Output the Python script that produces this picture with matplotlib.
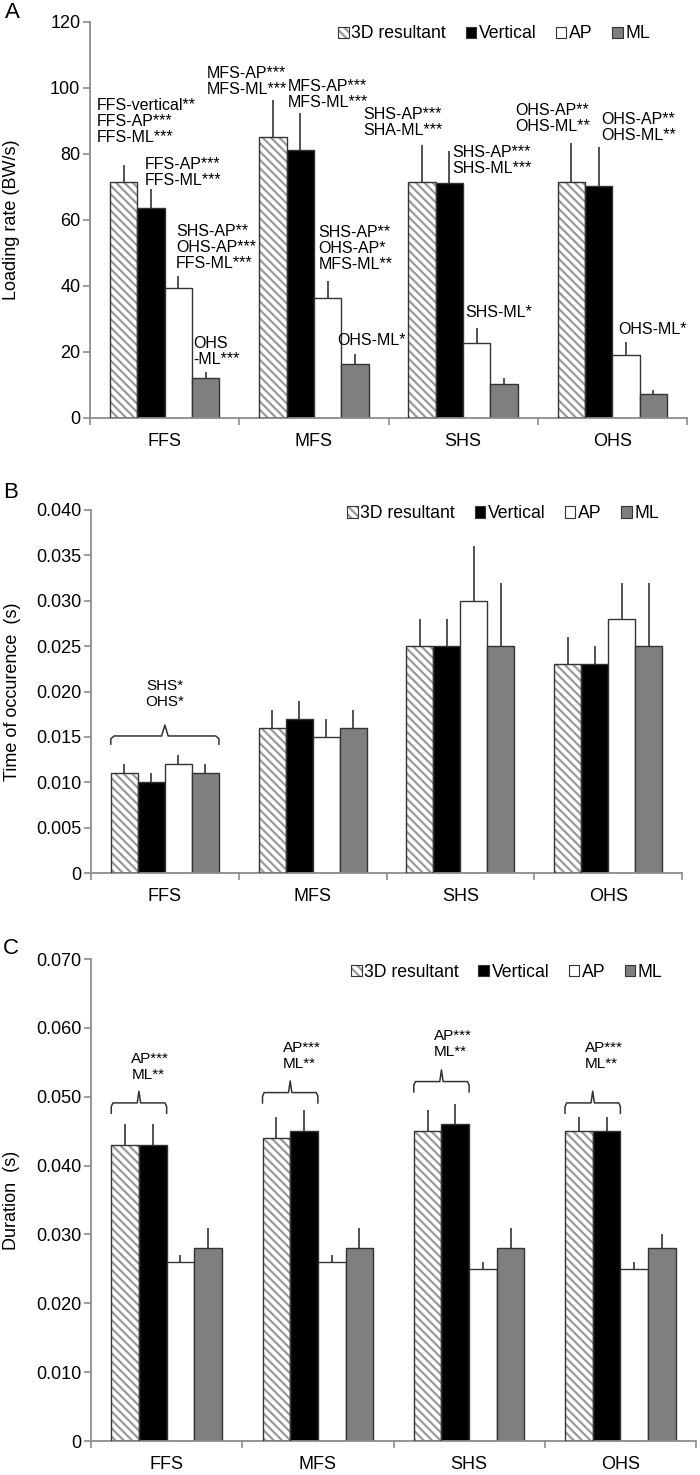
import numpy as np
import matplotlib.pyplot as plt
from matplotlib.patches import Patch
from matplotlib.legend_handler import HandlerTuple

plt.rcParams['font.family'] = ['Liberation Sans', 'DejaVu Sans']
plt.rcParams['hatch.linewidth'] = 1.6

strikes = ['FFS', 'MFS', 'SHS', 'OHS']
series = ['3D resultant', 'Vertical', 'AP', 'ML']

# A: loading rate (BW/s), mean and SD
lr_mean = [[71.5, 85.3, 71.5, 71.5],   # 3D resultant
           [63.5, 81.3, 71.2, 70.4],   # vertical
           [39.3, 36.3, 22.6, 19.1],   # AP
           [12.0, 16.5, 10.2, 7.2]]    # ML
lr_sd = [[5.3, 11.2, 11.2, 11.8],
         [5.9, 11.2, 9.6, 11.6],
         [3.7, 5.2, 4.7, 3.9],
         [1.8, 3.0, 1.8, 1.3]]

# B: time of occurence (s)
toc_mean = [[0.011, 0.016, 0.025, 0.023],
            [0.010, 0.017, 0.025, 0.023],
            [0.012, 0.015, 0.030, 0.028],
            [0.011, 0.016, 0.025, 0.025]]
toc_sd = [[0.001, 0.002, 0.003, 0.003],
          [0.001, 0.002, 0.003, 0.002],
          [0.001, 0.002, 0.006, 0.004],
          [0.001, 0.002, 0.007, 0.007]]

# C: duration (s)
dur_mean = [[0.043, 0.044, 0.045, 0.045],
            [0.043, 0.045, 0.046, 0.045],
            [0.026, 0.026, 0.025, 0.025],
            [0.028, 0.028, 0.028, 0.028]]
dur_sd = [[0.003, 0.003, 0.003, 0.002],
          [0.003, 0.003, 0.003, 0.002],
          [0.001, 0.001, 0.001, 0.001],
          [0.003, 0.003, 0.003, 0.002]]

W = 0.183
GRAY = '#8c8c8c'
x = np.arange(len(strikes))


def draw_panel(ax, means, sds, ymax, ystep, ylabel, fmt, label_x):
    for i in range(4):
        pos = x + (i - 1.5) * W
        if i == 0:
            ax.bar(pos, means[i], W, color='white', edgecolor='#9a9a9a',
                   hatch='\\\\\\\\', linewidth=0, zorder=2)
            ax.bar(pos, means[i], W, color='none', edgecolor='#333333',
                   linewidth=1, zorder=3)
        else:
            fc = ['black', 'white', '#7f7f7f'][i - 1]
            ax.bar(pos, means[i], W, color=fc, edgecolor='#333333',
                   linewidth=1, zorder=2)
        ax.errorbar(pos, means[i], yerr=[np.zeros(4), sds[i]], fmt='none',
                    ecolor='#222222', elinewidth=1.1, capsize=0, zorder=1)

    ax.set_xlim(-0.5, 3.5)
    ax.set_ylim(0, ymax)
    ticks = np.arange(0, ymax + ystep / 2, ystep)
    ax.set_yticks(ticks)
    ax.set_yticklabels(['0'] + [fmt.format(t) for t in ticks[1:]])
    ax.set_xticks(x)
    ax.set_xticklabels(strikes)
    ax.set_xticks(np.arange(-0.5, 4, 1), minor=True)
    ax.tick_params(axis='x', which='major', length=0, pad=11, labelsize=13)
    ax.tick_params(axis='x', which='minor', length=5, width=1.2,
                   color=GRAY, direction='out')
    ax.tick_params(axis='y', length=5, width=1.2, color=GRAY,
                   direction='out', pad=2, labelsize=13)
    for s in ['top', 'right']:
        ax.spines[s].set_visible(False)
    for s in ['left', 'bottom']:
        ax.spines[s].set_color(GRAY)
        ax.spines[s].set_linewidth(1.3)
    ax.set_ylabel(ylabel, fontsize=13)
    ax.yaxis.set_label_coords(label_x, 0.5)


def add_legend(ax, anchor):
    handles = [(Patch(facecolor='white', edgecolor='#9a9a9a', hatch='\\\\\\\\', lw=0),
                Patch(facecolor='none', edgecolor='#333333', lw=0.8)),
               Patch(facecolor='black', edgecolor='#333333', lw=0.8),
               Patch(facecolor='white', edgecolor='#333333', lw=0.8),
               Patch(facecolor='#7f7f7f', edgecolor='#333333', lw=0.8)]
    ax.legend(handles, series, ncol=4, frameon=False, fontsize=12.7,
              loc='center right', bbox_to_anchor=anchor, borderaxespad=0,
              borderpad=0, handlelength=0.6, handleheight=0.6,
              handletextpad=0.15, columnspacing=1.1,
              handler_map={tuple: HandlerTuple(ndivide=1)})


def brace(ax, x0, x1, y, drop, rise):
    xm = (x0 + x1) / 2
    e = (x1 - x0) * 0.03
    ax.plot([x0, x0, x0 + e, xm - e, xm, xm + e, x1 - e, x1, x1],
            [y - drop, y - drop * 0.35, y, y, y + rise, y, y, y - drop * 0.35, y - drop],
            color='#333333', lw=1.1, zorder=4)


fig = plt.figure(figsize=(7, 14.75), dpi=100)
axA = fig.add_axes([90 / 700, 1 - 418 / 1475, 597 / 700, 396 / 1475])
axB = fig.add_axes([91 / 700, 1 - 873 / 1475, 591 / 700, 363 / 1475])
axC = fig.add_axes([91 / 700, 1 - 1441 / 1475, 605 / 700, 482 / 1475])

# ---- A
draw_panel(axA, lr_mean, lr_sd, 120, 20, 'Loading rate (BW/s)', '{:.0f}', -0.117)
add_legend(axA, (0.938, 0.97))
notes_A = [
    (-0.453, 82.7, 'FFS-vertical**\nFFS-AP***\nFFS-ML***'),
    (-0.131, 69.7, 'FFS-AP***\nFFS-ML***'),
    (0.077, 44.5, 'SHS-AP**\nOHS-AP***\nFFS-ML***'),
    (0.19, 15.5, 'OHS\n-ML***'),
    (0.285, 97.3, 'MFS-AP***\nMFS-ML***'),
    (0.822, 93.3, 'MFS-AP***\nMFS-ML***'),
    (1.03, 44.2, 'SHS-AP**\nOHS-AP*\nMFS-ML**'),
    (1.158, 21.2, 'OHS-ML*'),
    (1.332, 84.8, 'SHS-AP***\nSHA-ML***'),
    (1.93, 73.3, 'SHS-AP***\nSHS-ML***'),
    (2.017, 29.7, 'SHS-ML*'),
    (2.352, 86.0, 'OHS-AP**\nOHS-ML**'),
    (2.923, 83.3, 'OHS-AP**\nOHS-ML**'),
    (3.037, 24.5, 'OHS-ML*'),
]
for nx, ny, txt in notes_A:
    axA.text(nx, ny, txt, fontsize=11.5, ha='left', va='bottom',
             linespacing=1.1, zorder=5)

# ---- B
draw_panel(axB, toc_mean, toc_sd, 0.040, 0.005, 'Time of occurence  (s)', '{:.3f}', -0.118)
add_legend(axB, (0.961, 0.99))
brace(axB, -2 * W, 2 * W, 0.0151, 0.0009, 0.0012)
axB.text(0, 0.0197, 'SHS*\nOHS*', fontsize=11, ha='center', va='center',
         linespacing=1.2)

# ---- C
draw_panel(axC, dur_mean, dur_sd, 0.070, 0.010, 'Duration  (s)', '{:.3f}', -0.117)
add_legend(axC, (0.945, 0.973))
brace_y = [0.0491, 0.0506, 0.0522, 0.0491]
text_y = [0.0543, 0.0559, 0.0576, 0.0559]
for i in range(4):
    brace(axC, x[i] - 2 * W, x[i], brace_y[i], 0.0015, 0.0017)
    axC.text(x[i] - W - 0.05, text_y[i], 'AP***\nML**', fontsize=11,
             ha='left', va='center', linespacing=1.2)

fig.text(5 / 700, 1 - 2 / 1475, 'A', fontsize=16, va='top', ha='left')
fig.text(3 / 700, 1 - 482 / 1475, 'B', fontsize=16, va='top', ha='left')
fig.text(3 / 700, 1 - 938 / 1475, 'C', fontsize=16, va='top', ha='left')

plt.savefig('out.png', dpi=100)
